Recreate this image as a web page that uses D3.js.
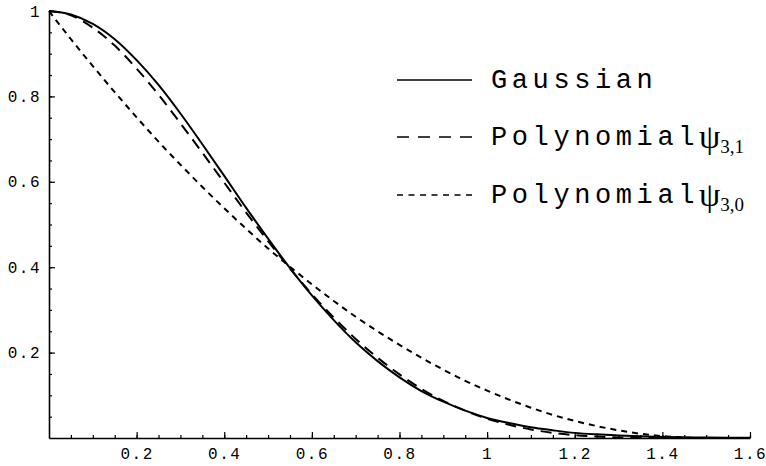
<!DOCTYPE html>
<html>
<head>
<meta charset="utf-8">
<script src="https://cdn.jsdelivr.net/npm/d3@7/dist/d3.min.js"></script>
<style>
  body { margin: 0; background: #fff; }
  svg { display: block; }
  .tick text { font-family: "Liberation Mono", "DejaVu Sans Mono", monospace; }
</style>
</head>
<body>
<svg id="chart" width="766" height="466"></svg>
<script>
// x samples (step 0.05) and the values
let xs = [0, 0.05, 0.1, 0.15, 0.2, 0.25, 0.3, 0.35, 0.4, 0.45, 0.5, 0.55, 0.6, 0.65, 0.7, 0.75,
          0.8, 0.85, 0.9, 0.95, 1.0, 1.05, 1.1, 1.15, 1.2, 1.25, 1.3, 1.35, 1.4, 1.45, 1.5, 1.55, 1.6]

let gaussian = [1, 0.992, 0.970, 0.934, 0.885, 0.827, 0.760, 0.688, 0.614, 0.539, 0.467, 0.398,
                0.334, 0.276, 0.224, 0.180, 0.142, 0.110, 0.085, 0.064, 0.047, 0.035, 0.025,
                0.018, 0.012, 0.0085, 0.006, 0.004, 0.0025, 0.0016, 0.001, 0.0006, 0.0004]

let poly31 = [1, 0.990, 0.961, 0.919, 0.865, 0.804, 0.737, 0.668, 0.598, 0.528, 0.461, 0.397,
              0.337, 0.282, 0.232, 0.188, 0.149, 0.115, 0.087, 0.064, 0.045, 0.031, 0.020,
              0.012, 0.0067, 0.0033, 0.0014, 0.0005, 0.0001, 0, 0, 0, 0]

let poly30 = [1, 0.934, 0.871, 0.810, 0.751, 0.694, 0.640, 0.588, 0.538, 0.490, 0.444, 0.401,
              0.360, 0.321, 0.284, 0.250, 0.218, 0.188, 0.160, 0.134, 0.111, 0.090, 0.071,
              0.054, 0.040, 0.028, 0.018, 0.010, 0.0044, 0.0011, 0, 0, 0]

let xTicks = [0.2, 0.4, 0.6, 0.8, 1, 1.2, 1.4, 1.6]
let yTicks = [0.2, 0.4, 0.6, 0.8, 1]
let minorX = d3.range(1, 33).map(i => i * 0.05)
let minorY = d3.range(1, 21).map(i => i * 0.05)

let legendNames = ["Gaussian", "Polynomial", "Polynomial"]
let legendSubs = ["", "3,1", "3,0"]

let svg = d3.select("#chart")

let x = d3.scaleLinear().domain([0, 1.6]).range([49, 750])
let y = d3.scaleLinear().domain([0, 1]).range([438, 11])

let fmt = d => (d === 1 ? "1" : d3.format(".1f")(d))

// minor ticks first
svg.append("g")
  .attr("transform", "translate(0,438)")
  .call(d3.axisBottom(x).tickValues(minorX).tickSize(-3).tickFormat(""))
  .call(g => g.select(".domain").remove())
svg.append("g")
  .attr("transform", "translate(49,0)")
  .call(d3.axisLeft(y).tickValues(minorY).tickSize(-3).tickFormat(""))
  .call(g => g.select(".domain").remove())

// major ticks + labels
let xAxis = svg.append("g")
  .attr("transform", "translate(0,438)")
  .call(d3.axisBottom(x).tickValues(xTicks).tickSizeInner(-6).tickSizeOuter(0).tickPadding(10).tickFormat(fmt))
let yAxis = svg.append("g")
  .attr("transform", "translate(49,0)")
  .call(d3.axisLeft(y).tickValues(yTicks).tickSizeInner(-6).tickSizeOuter(0).tickPadding(8).tickFormat(fmt))

svg.selectAll(".tick line").attr("stroke", "#000").attr("stroke-width", 1.2)
svg.selectAll(".domain").attr("stroke", "#000").attr("stroke-width", 1.6)
svg.selectAll(".tick text").attr("fill", "#000").style("font-size", "16px").style("letter-spacing", "1.5px")

// curves
let line = d3.line()
  .x((d, i) => x(xs[i]))
  .y(d => y(d))
  .curve(d3.curveMonotoneX)

let series = [
  {values: gaussian, dash: null},
  {values: poly31, dash: "11,7"},
  {values: poly30, dash: "6,5"}
]

series.forEach(function(s){
  svg.append("path")
    .datum(s.values)
    .attr("d", line)
    .attr("fill", "none")
    .attr("stroke", "#000")
    .attr("stroke-width", 2)
    .attr("stroke-dasharray", s.dash)
})

// legend
let legendY = [80, 137, 195]
let legendDash = [null, "12,9", "6,5.5"]

for(i = 0; i < legendNames.length; i++){
  svg.append("line")
    .attr("x1", 397).attr("x2", 472)
    .attr("y1", legendY[i]).attr("y2", legendY[i])
    .attr("stroke", "#000")
    .attr("stroke-width", 1.3)
    .attr("stroke-dasharray", legendDash[i])

  let t = svg.append("text")
    .attr("x", 491)
    .attr("y", legendY[i] + 8)
    .style("font-family", '"Liberation Mono", "DejaVu Sans Mono", monospace')
    .style("font-size", "27px")
    .style("letter-spacing", "4.6px")
    .attr("fill", "#000")
  t.append("tspan").text(legendNames[i])
  if(legendSubs[i] != ""){
    t.append("tspan")
      .style("font-family", '"Liberation Serif", "DejaVu Serif", serif')
      .style("font-size", "34px")
      .style("letter-spacing", "0px")
      .attr("dy", 3)
      .text("ψ")
    t.append("tspan")
      .style("font-family", '"Liberation Serif", "DejaVu Serif", serif')
      .style("font-size", "19px")
      .style("letter-spacing", "0px")
      .attr("dy", 5)
      .text(legendSubs[i])
  }
}
</script>
</body>
</html>
